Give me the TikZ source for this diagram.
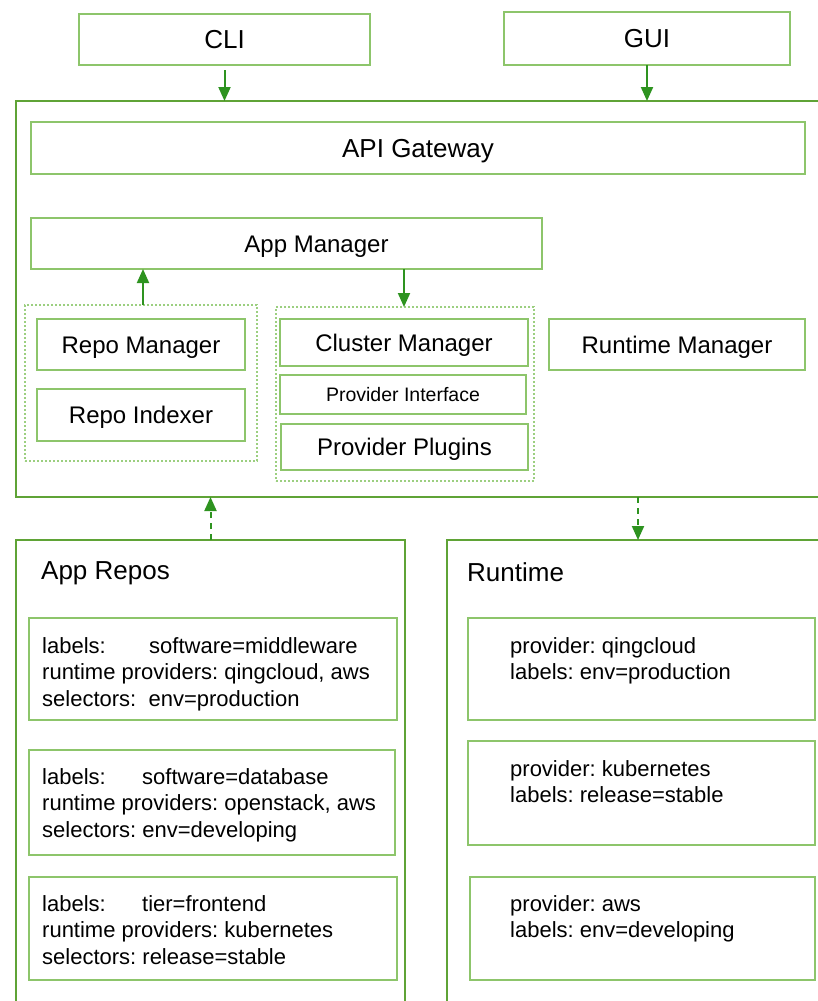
\documentclass[tikz,border=0pt]{standalone}
\usepackage{fontspec}
\setmainfont{Liberation Sans}
\usetikzlibrary{arrows.meta}
\definecolor{lg}{HTML}{8DC56B}
\definecolor{dotg}{HTML}{9CCF80}
\definecolor{dg}{HTML}{5FA336}
\definecolor{ag}{HTML}{2E9320}
\newcommand\rbox[7][]{%
  \node[bx,#1,minimum width={#5-#3},minimum height={#6-#4}] (#2) at ({(#3+#5)/2},{(#4+#6)/2}) {#7};}
\begin{document}
\frenchspacing
\begin{tikzpicture}[x=1pt,y=-1pt,
  bx/.style={draw=lg,line width=1.8pt,inner sep=0pt,outer sep=0pt,text height=17.2pt,text depth=0pt,font=\fontsize{24}{28}\selectfont},
  big/.style={text height=18.6pt,font=\fontsize{26}{30}\selectfont},
  small/.style={text height=14pt,font=\fontsize{19.5}{23}\selectfont},
  outerbox/.style={draw=dg,line width=2.2pt},
  grp/.style={draw=dotg,line width=1.5pt,dash pattern=on 2pt off 2pt},
  arr/.style={draw=ag,line width=2pt,-{Triangle[width=12pt,length=14pt]}},
  darr/.style={arr,dash pattern=on 6pt off 5pt},
  itemtxt/.style={inner sep=0pt,anchor=north west,align=left,font=\fontsize{22}{26.6}\selectfont},
  ttl/.style={inner sep=0pt,anchor=base west,font=\fontsize{26}{30}\selectfont}]
\useasboundingbox (0,0) rectangle (818,1001);

% top clients
\rbox[big]{cli}{79}{14}{370}{65}{CLI}
\rbox[big]{gui}{504}{12}{790}{65}{GUI}

% outer container
\rbox[outerbox]{outer}{16}{101}{824}{497}{}
\rbox[big]{api}{31}{122}{805}{174}{API Gateway}
\rbox{appmgr}{31}{218}{542}{269}{\hspace*{60pt}App Manager}

% repo group
\rbox[grp]{repogrp}{25}{305}{257}{461}{}
\rbox{repomgr}{37}{319}{245}{370}{Repo Manager}
\rbox{repoidx}{37}{389}{245}{441}{Repo Indexer}

% cluster group
\rbox[grp]{clgrp}{276}{307}{534}{481}{}
\rbox{clmgr}{280}{319}{528}{366}{Cluster Manager}
\rbox[small]{provif}{280}{375}{526}{414}{Provider Interface}
\rbox{provpl}{281}{424}{528}{470}{Provider Plugins}

\rbox{rtmgr}{549}{319}{805}{370}{Runtime Manager}

% bottom containers
\rbox[outerbox]{apprepos}{16}{540}{405}{1012}{}
\rbox[outerbox]{runtime}{447}{540}{829}{1012}{}
\node[ttl] (appreposttl) at (41,579) {App Repos};
\node[ttl] (runtimettl) at (467,581) {Runtime};

% repo items
\rbox{rp1}{29}{618}{397}{720}{}
\rbox{rp2}{29}{750}{395}{855}{}
\rbox{rp3}{29}{877}{397}{980}{}
\node[itemtxt] (rp1t) at (42,637) {\makebox[107pt][l]{labels:}software=middleware\\runtime providers: qingcloud, aws\\selectors:\ \ env=production};
\node[itemtxt] (rp2t) at (42,768) {\makebox[100pt][l]{labels:}software=database\\runtime providers: openstack, aws\\selectors: env=developing};
\node[itemtxt] (rp3t) at (42,895) {\makebox[100pt][l]{labels:}tier=frontend\\runtime providers: kubernetes\\selectors: release=stable};

% runtime items
\rbox{rt1}{468}{618}{815}{720}{}
\rbox{rt2}{468}{741}{815}{845}{}
\rbox{rt3}{470}{877}{815}{980}{}
\node[itemtxt] (rt1t) at (510,637) {provider: qingcloud\\labels: env=production};
\node[itemtxt] (rt2t) at (510,760) {provider: kubernetes\\labels: release=stable};
\node[itemtxt] (rt3t) at (510,895) {provider: aws\\labels: env=developing};

% connectors
\draw[arr] ([yshift=-5pt]cli.south) -- (cli.south |- outer.north);
\draw[arr] (gui.south) -- (gui.south |- outer.north);
\draw[arr] ([xshift=2pt]repogrp.north -| repomgr.north) -- ([xshift=2pt]repomgr.north |- appmgr.south);
\draw[arr] (appmgr.south -| clmgr.north) -- (clmgr.north |- clgrp.north);
\draw[darr] (apprepos.north) -- (apprepos.north |- outer.south);
\draw[darr] (runtime.north |- outer.south) -- (runtime.north);
\end{tikzpicture}
\end{document}
